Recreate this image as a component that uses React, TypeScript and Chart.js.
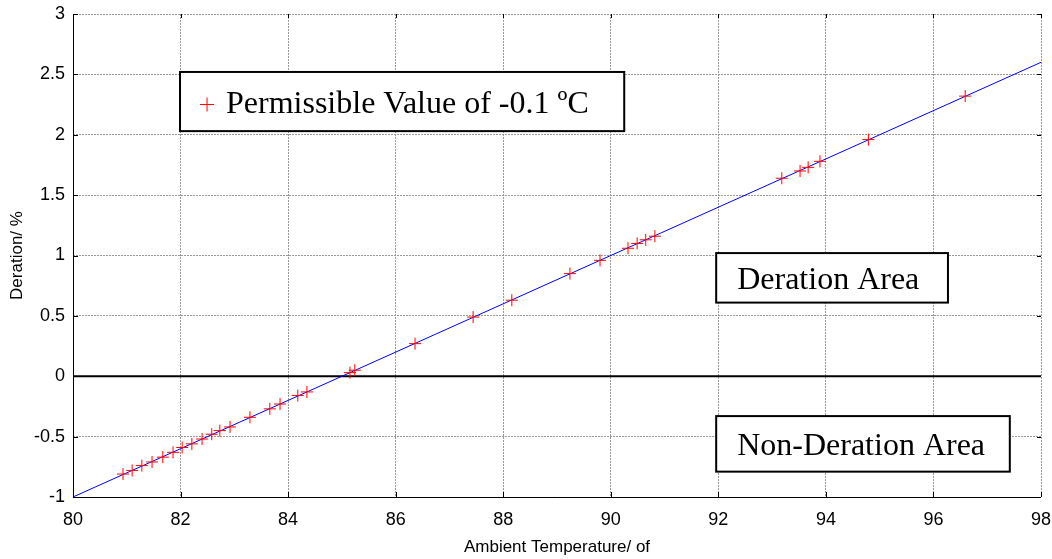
import { useEffect, useRef } from "react";
import { Chart, registerables } from "chart.js";

Chart.register(...registerables);

// Measured points (red "+" markers)
const markerX = [
  80.93, 81.1, 81.28, 81.47, 81.67, 81.86, 82.03, 82.21, 82.4, 82.58, 82.73, 82.92,
  83.29, 83.66, 83.85, 84.18, 84.35, 85.15, 85.24, 86.36, 87.44, 88.16, 89.24, 89.8,
  90.32, 90.49, 90.65, 90.82, 93.18, 93.52, 93.67, 93.89, 94.79, 96.59,
];
const markerY = [
  -0.81, -0.78, -0.74, -0.71, -0.67, -0.63, -0.59, -0.56, -0.52, -0.48, -0.45, -0.42,
  -0.34, -0.27, -0.23, -0.16, -0.13, 0.03, 0.05, 0.27, 0.49, 0.63, 0.85, 0.96,
  1.06, 1.1, 1.13, 1.16, 1.64, 1.7, 1.73, 1.78, 1.96, 2.32,
];

// Fitted blue line
const fitLineX = [80, 98];
const fitLineY = [-1, 2.6];

// Zero reference line
const zeroLineX = [80, 98];
const zeroLineY = [0, 0];

// Tick labels
const xTicks = [80, 82, 84, 86, 88, 90, 92, 94, 96, 98];
const yTicks = [-1, -0.5, 0, 0.5, 1, 1.5, 2, 2.5, 3];

const xTitle = "Ambient Temperature/ of";
const yTitle = "Deration/ %";

// Text boxes (data coordinates)
const boxLabels = ["Permissible Value of -0.1 ºC", "Deration Area", "Non-Deration Area"];
const boxX0 = [81.99, 91.96, 91.96];
const boxX1 = [90.25, 96.27, 97.42];
const boxY0 = [2.52, 1.02, -0.33];
const boxY1 = [2.03, 0.61, -0.79];
const boxMarker = [true, false, false];

const axesPlugin = {
  id: "matlabAxes",
  afterDatasetsDraw(chart: any) {
    const { ctx, chartArea, scales } = chart;
    const { left, right, top, bottom } = chartArea;
    ctx.save();
    ctx.strokeStyle = "#000";
    ctx.lineWidth = 1;
    ctx.setLineDash([]);
    ctx.beginPath();
    ctx.moveTo(left + 0.5, top);
    ctx.lineTo(left + 0.5, bottom + 0.5);
    ctx.lineTo(right, bottom + 0.5);
    ctx.stroke();
    ctx.beginPath();
    xTicks.forEach((v) => {
      const px = Math.round(scales.x.getPixelForValue(v)) + 0.5;
      ctx.moveTo(px, bottom);
      ctx.lineTo(px, bottom - 5);
      ctx.moveTo(px, top);
      ctx.lineTo(px, top + 4);
    });
    yTicks.forEach((v) => {
      const py = Math.round(scales.y.getPixelForValue(v)) + 0.5;
      ctx.moveTo(left, py);
      ctx.lineTo(left + 5, py);
      ctx.moveTo(right, py);
      ctx.lineTo(right - 4, py);
    });
    ctx.stroke();

    const fontSize = 32;
    ctx.font = `${fontSize}px "Liberation Serif", "Times New Roman", serif`;
    ctx.textBaseline = "middle";
    ctx.textAlign = "left";
    boxLabels.forEach((label, i) => {
      const x0 = scales.x.getPixelForValue(boxX0[i]);
      const x1 = scales.x.getPixelForValue(boxX1[i]);
      const y0 = scales.y.getPixelForValue(boxY0[i]);
      const y1 = scales.y.getPixelForValue(boxY1[i]);
      ctx.fillStyle = "#fff";
      ctx.fillRect(x0, y0, x1 - x0, y1 - y0);
      ctx.strokeStyle = "#000";
      ctx.lineWidth = 2;
      ctx.strokeRect(x0, y0, x1 - x0, y1 - y0);
      const cy = (y0 + y1) / 2 + 3;
      let tx = x0 + 21;
      if (boxMarker[i]) {
        const mx = x0 + 27;
        ctx.strokeStyle = "#ff0000";
        ctx.lineWidth = 1;
        ctx.beginPath();
        ctx.moveTo(mx - 7, cy);
        ctx.lineTo(mx + 7, cy);
        ctx.moveTo(mx, cy - 7);
        ctx.lineTo(mx, cy + 7);
        ctx.stroke();
        tx = x0 + 46;
      }
      ctx.fillStyle = "#000";
      ctx.fillText(label, tx, cy);
    });
    ctx.restore();
  },
};

export default function App() {
  const canvasRef = useRef<HTMLCanvasElement | null>(null);

  useEffect(() => {
    if (!canvasRef.current) return;
    const tickFont = { family: '"Liberation Sans", Arial, sans-serif', size: 18 };
    const titleFont = { family: '"Liberation Sans", Arial, sans-serif', size: 17 };
    const gridOpts = { color: "#999999", lineWidth: 1, drawTicks: false };
    const chart = new Chart(canvasRef.current, {
      type: "scatter",
      data: {
        datasets: [
          {
            label: "zero",
            data: zeroLineX.map((x, i) => ({ x, y: zeroLineY[i] })),
            showLine: true,
            borderColor: "#000",
            borderWidth: 2,
            pointRadius: 0,
            order: 3,
          },
          {
            label: "fit",
            data: fitLineX.map((x, i) => ({ x, y: fitLineY[i] })),
            showLine: true,
            borderColor: "#0000ff",
            borderWidth: 1,
            pointRadius: 0,
            order: 2,
          },
          {
            label: "Permissible Value of -0.1 ºC",
            data: markerX.map((x, i) => ({ x, y: markerY[i] })),
            showLine: false,
            pointStyle: "cross",
            pointRadius: 6,
            borderColor: "#ff0000",
            backgroundColor: "#ff0000",
            borderWidth: 1,
            order: 1,
          },
        ],
      },
      options: {
        responsive: false,
        animation: false,
        layout: { padding: { top: 14, right: 11, left: 0, bottom: 0 } },
        plugins: { legend: { display: false }, tooltip: { enabled: false } },
        scales: {
          x: {
            type: "linear",
            min: 80,
            max: 98,
            afterBuildTicks: (s: any) => {
              s.ticks = xTicks.map((v) => ({ value: v }));
            },
            afterFit: (s: any) => {
              s.height = 62;
              s.paddingLeft = 0;
              s.paddingRight = 0;
            },
            ticks: {
              color: "#000",
              font: tickFont,
              padding: 12,
              maxRotation: 0,
              autoSkip: false,
              callback: (v: any) => String(v),
            },
            grid: gridOpts,
            border: { display: false, dash: [2, 1] },
            title: {
              display: true,
              text: xTitle,
              color: "#000",
              font: titleFont,
              padding: { top: 0, bottom: 1 },
            },
          },
          y: {
            type: "linear",
            min: -1,
            max: 3,
            afterBuildTicks: (s: any) => {
              s.ticks = yTicks.map((v) => ({ value: v }));
            },
            afterFit: (s: any) => {
              s.width = 73;
              s.paddingTop = 0;
              s.paddingBottom = 0;
            },
            ticks: {
              color: "#000",
              font: tickFont,
              padding: 8,
              autoSkip: false,
              callback: (v: any) => String(v),
            },
            grid: gridOpts,
            border: { display: false, dash: [2, 1] },
            title: {
              display: true,
              text: yTitle,
              color: "#000",
              font: titleFont,
              padding: { top: 7, bottom: 0 },
            },
          },
        },
      },
      plugins: [axesPlugin],
    } as any);
    return () => chart.destroy();
  }, []);

  return (
    <div style={{ position: "absolute", left: 0, top: 0, width: 1052, height: 559, background: "#fff" }}>
      <canvas ref={canvasRef} width={1052} height={559} style={{ display: "block" }} />
    </div>
  );
}
